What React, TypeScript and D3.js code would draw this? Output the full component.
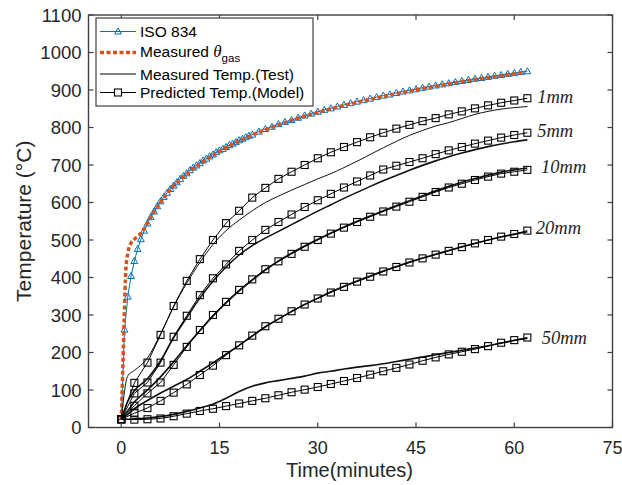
import React from "react";
import * as d3 from "d3";

// ---------- data ----------
const isoTimes = [0, 0.5, 1, 1.5, 2, 2.5, 3, 3.5, 4, 4.5, 5, 5.5, 6, 6.5, 7, 7.5, 8, 8.5, 9, 9.5, 10, 10.5, 11, 11.5, 12, 12.5, 13, 13.5, 14, 14.5, 15, 15.5, 16, 16.5, 17, 17.5, 18, 18.5, 19, 19.5, 20, 21, 22, 23, 24, 25, 26, 27, 28, 29, 30, 31, 32, 33, 34, 35, 36, 37, 38, 39, 40, 41, 42, 43, 44, 45, 46, 47, 48, 49, 50, 51, 52, 53, 54, 55, 56, 57, 58, 59, 60, 61, 62];
const isoValues = [20, 261, 349, 404, 444, 476, 502, 525, 544, 561, 576, 590, 603, 615, 626, 636, 645, 654, 663, 671, 678, 686, 693, 699, 705, 712, 717, 723, 728, 734, 739, 743, 748, 753, 757, 761, 766, 770, 774, 778, 781, 789, 796, 802, 809, 815, 820, 826, 832, 837, 842, 847, 851, 856, 860, 865, 869, 873, 877, 881, 885, 888, 892, 896, 899, 902, 906, 909, 912, 915, 918, 921, 924, 927, 930, 932, 935, 938, 940, 943, 945, 948, 950];

const gasTimes = [0, 0.2, 0.45, 0.7, 1, 1.5, 2, 2.5, 3, 3.5, 4, 5, 6, 7, 8, 9, 10, 12, 14, 16, 18, 20, 22, 24, 26, 28, 30, 32, 34, 36, 38, 40, 42, 44, 46, 48, 50, 52, 54, 56, 58, 60, 61.7];
const gasValues = [20, 135, 290, 420, 465, 492, 502, 510, 518, 530, 545, 575, 600, 624, 644, 660, 676, 703, 726, 746, 764, 780, 794, 807, 819, 830, 840, 850, 859, 867, 875, 883, 890, 897, 904, 910, 916, 922, 928, 933, 938, 943, 947];

const predTimes = [0, 2, 4, 6, 8, 10, 12, 14, 16, 18, 20, 22, 24, 26, 28, 30, 32, 34, 36, 38, 40, 42, 44, 46, 48, 50, 52, 54, 56, 58, 60, 62];
const pred1mm = [22, 119, 173, 247, 324, 391, 449, 500, 545, 578, 613, 639, 663, 682, 700, 718, 734, 748, 761, 774, 786, 797, 807, 817, 825, 835, 843, 851, 859, 866, 872, 878];
const pred5mm = [22, 91, 120, 173, 242, 298, 353, 398, 435, 471, 500, 527, 548, 568, 588, 606, 623, 640, 656, 672, 688, 698, 708, 718, 729, 739, 748, 757, 765, 773, 780, 786];
const pred10mm = [22, 58, 91, 120, 167, 215, 260, 300, 335, 367, 395, 422, 443, 463, 482, 500, 517, 533, 548, 562, 576, 589, 602, 615, 628, 640, 650, 660, 669, 677, 682, 687];
const pred20mm = [22, 38, 52, 71, 93, 115, 140, 165, 193, 219, 245, 270, 290, 310, 328, 344, 360, 375, 389, 402, 416, 428, 440, 451, 461, 471, 481, 491, 500, 509, 516, 525];
const pred50mm = [22, 21, 22, 24, 30, 37, 44, 50, 57, 64, 71, 78, 86, 94, 101, 108, 116, 124, 132, 141, 150, 159, 168, 178, 187, 195, 202, 209, 217, 226, 233, 240];

const measTimes = [0, 1, 2, 4, 6, 8, 10, 12, 14, 16, 18, 20, 22, 24, 26, 28, 30, 32, 34, 36, 38, 40, 42, 44, 46, 48, 50, 52, 54, 56, 58, 60, 62];
const meas1mm = [22, 138, 152, 185, 250, 322, 385, 440, 488, 525, 553, 578, 600, 617, 633, 648, 663, 677, 693, 710, 728, 746, 763, 779, 792, 804, 813, 824, 835, 843, 849, 853, 856];
const meas5mm = [22, 70, 98, 130, 178, 240, 293, 345, 390, 428, 460, 485, 505, 523, 541, 559, 577, 594, 611, 627, 643, 658, 672, 686, 699, 711, 722, 732, 741, 749, 756, 762, 767];
const meas10mm = [22, 45, 68, 100, 135, 175, 218, 258, 297, 332, 364, 393, 420, 444, 465, 484, 502, 519, 535, 550, 564, 578, 592, 605, 618, 631, 643, 654, 664, 673, 681, 687, 692];
const meas20mm = [22, 35, 50, 72, 92, 110, 128, 150, 172, 196, 219, 244, 268, 289, 309, 328, 345, 362, 377, 391, 404, 417, 429, 441, 452, 462, 472, 482, 491, 500, 508, 515, 522];
const meas50mm = [22, 22, 23, 25, 29, 35, 43, 52, 62, 78, 96, 110, 119, 125, 131, 137, 145, 150, 156, 161, 165, 170, 176, 182, 188, 194, 200, 206, 212, 218, 225, 232, 238];

const depthLabels = ["1mm", "5mm", "10mm", "20mm", "50mm"];
const labelTimes = [63.5, 63.5, 64.1, 63.3, 64.2];
const labelTemps = [866, 775, 678, 517, 224];

const xTicks = [0, 15, 30, 45, 60, 75];
const yTicks = [0, 100, 200, 300, 400, 500, 600, 700, 800, 900, 1000, 1100];

const legendLabels = ["ISO 834", "Measured ", "Measured Temp.(Test)", "Predicted Temp.(Model)"];

// ---------- chart ----------
const W = 622, H = 485;
const L = 88.5, R = 612.5, T = 15, B = 427.5;
const BLUE = "#0072BD";
const ORANGE = "#D95319";
const AX = "#404040";
const TXT = "#262626";

export default function App() {
  const x = d3.scaleLinear().domain([-5, 75]).range([L, R]);
  const y = d3.scaleLinear().domain([0, 1100]).range([B, T]);

  const lineLin = d3.line<[number, number]>().x(d => x(d[0])).y(d => y(d[1]));
  const lineSmooth = d3.line<[number, number]>().x(d => x(d[0])).y(d => y(d[1])).curve(d3.curveMonotoneX);

  const zip = (ts: number[], vs: number[]) => ts.map((t, i) => [t, vs[i]] as [number, number]);

  const preds = [pred1mm, pred5mm, pred10mm, pred20mm, pred50mm];
  const meas = [meas1mm, meas5mm, meas10mm, meas20mm, meas50mm];
  const measWidths = [1, 1.6, 1.6, 1.6, 1.6];

  const tri = (cx: number, cy: number, s = 3.6) =>
    `M${cx},${cy - s}L${cx + s * 0.95},${cy + s * 0.7}L${cx - s * 0.95},${cy + s * 0.7}Z`;
  const SQ = 7;

  return (
    <svg width={W} height={H} style={{ position: "absolute", left: 0, top: 0, background: "#fff" }}
      fontFamily="'Liberation Sans', Arial, sans-serif">
      <rect x={0} y={0} width={W} height={H} fill="#fff" />
      {/* ISO 834 */}
      <path d={lineLin(zip(isoTimes, isoValues)) || ""} fill="none" stroke={BLUE} strokeWidth={1} />
      {isoTimes.map((t, i) => (
        <path key={"iso" + i} d={tri(x(t), y(isoValues[i]))} fill="none" stroke={BLUE} strokeWidth={1} />
      ))}
      {/* measured gas */}
      <path d={lineSmooth(zip(gasTimes, gasValues)) || ""} fill="none" stroke={ORANGE} strokeWidth={3.5} strokeDasharray="4 2.5" />

      {/* measured temps */}
      {meas.map((m, k) => (
        <path key={"m" + k} d={lineSmooth(zip(measTimes, m)) || ""} fill="none" stroke="#111" strokeWidth={measWidths[k]} />
      ))}
      {/* predicted */}
      {preds.map((p, k) => (
        <g key={"p" + k}>
          <path d={lineLin(zip(predTimes, p)) || ""} fill="none" stroke="#000" strokeWidth={1} />
          {predTimes.map((t, i) => (
            <rect key={i} x={x(t) - SQ / 2} y={y(p[i]) - SQ / 2} width={SQ} height={SQ} fill="none" stroke="#000" strokeWidth={1.1} />
          ))}
        </g>
      ))}

      {/* depth labels */}
      {depthLabels.map((lab, i) => (
        <text key={lab} x={x(labelTimes[i])} y={y(labelTemps[i])} fontFamily="'Liberation Serif', 'Times New Roman', serif"
          fontStyle="italic" fontSize={18.5} fill={TXT}>{lab}</text>
      ))}

      {/* axes box */}
      <rect x={L} y={T} width={R - L} height={B - T} fill="none" stroke={AX} strokeWidth={1.4} />
      {xTicks.map(t => (
        <g key={"xt" + t}>
          <line x1={x(t)} x2={x(t)} y1={B} y2={B - 5} stroke={AX} strokeWidth={1.2} />
          <line x1={x(t)} x2={x(t)} y1={T} y2={T + 5} stroke={AX} strokeWidth={1.2} />
          <text x={x(t)} y={B + 26} textAnchor="middle" fontSize={18} fill={TXT}>{t}</text>
        </g>
      ))}
      {yTicks.map(v => (
        <g key={"yt" + v}>
          <line x1={L} x2={L + 5} y1={y(v)} y2={y(v)} stroke={AX} strokeWidth={1.2} />
          <line x1={R} x2={R - 5} y1={y(v)} y2={y(v)} stroke={AX} strokeWidth={1.2} />
          <text x={L - 7} y={y(v) + 6.5} textAnchor="end" fontSize={18.5} fill={TXT}>{v}</text>
        </g>
      ))}
      <text x={(L + R) / 2 - 1} y={477} textAnchor="middle" fontSize={20} fill={TXT}>Time(minutes)</text>
      <text transform={`translate(31,${(T + B) / 2}) rotate(-90)`} textAnchor="middle" fontSize={21} fill={TXT}>Temperature (°C)</text>

      {/* legend */}
      <g>
        <rect x={96} y={18} width={217} height={88} fill="#fff" stroke={AX} strokeWidth={1.2} />
        {/* ISO */}
        <line x1={100} x2={136} y1={31.5} y2={31.5} stroke={BLUE} strokeWidth={1} />
        <path d={tri(118, 31.5)} fill="none" stroke={BLUE} strokeWidth={1} />
        <text x={140} y={37} fontSize={15.5} fill="#000">{legendLabels[0]}</text>
        {/* gas */}
        <line x1={100} x2={136} y1={52.5} y2={52.5} stroke={ORANGE} strokeWidth={3.5} strokeDasharray="4 2.5" />
        <text x={140} y={57} fontSize={15.5} fill="#000">
          {legendLabels[1]}
          <tspan fontFamily="'Liberation Serif', 'Times New Roman', serif" fontStyle="italic" fontSize={17}>θ</tspan>
          <tspan dy={5} fontSize={11.5}>gas</tspan>
        </text>
        {/* measured */}
        <line x1={100} x2={136} y1={74} y2={74} stroke="#000" strokeWidth={1} />
        <text x={140} y={79.5} fontSize={15.5} fill="#000">{legendLabels[2]}</text>
        {/* predicted */}
        <line x1={100} x2={136} y1={92.5} y2={92.5} stroke="#000" strokeWidth={1} />
        <rect x={118 - SQ / 2} y={92.5 - SQ / 2} width={SQ} height={SQ} fill="#fff" stroke="#000" strokeWidth={1.1} />
        <text x={140} y={98} fontSize={15.5} fill="#000">{legendLabels[3]}</text>
      </g>
    </svg>
  );
}
